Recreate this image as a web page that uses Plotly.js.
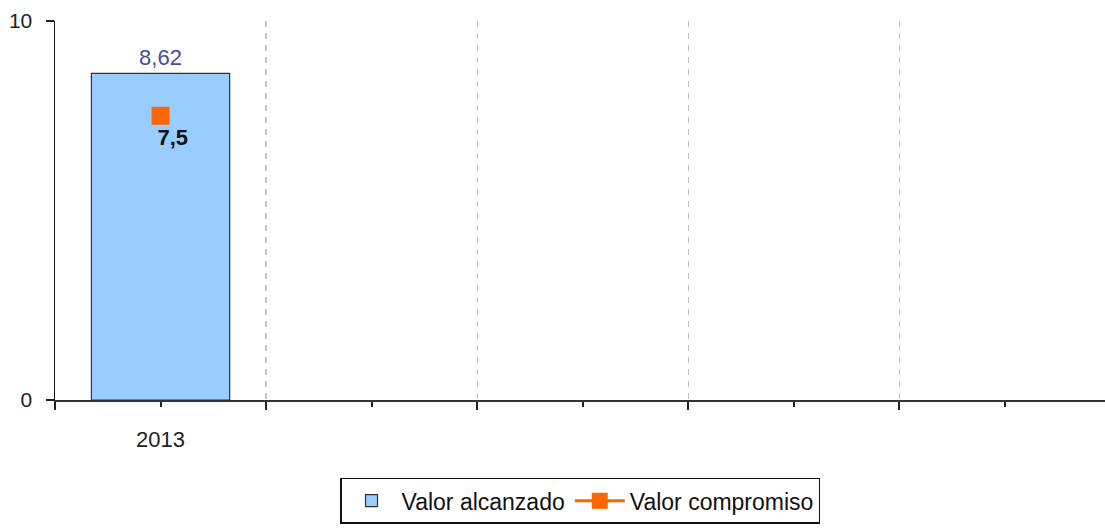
<!DOCTYPE html>
<html>
<head>
<meta charset="utf-8">
<script src="https://cdn.plot.ly/plotly-3.0.1.min.js"></script>
<style>html,body{margin:0;padding:0;background:#fff;}#chart{width:1105px;height:528px;}</style>
</head>
<body>
<div id="chart"></div>
<script>
// ---- data ----
const categories = ['2013', '', '', '', ''];
const valorAlcanzado = [8.62, null, null, null, null];
const valorCompromiso = [7.5, null, null, null, null];
const yTicks = [0, 10];
const seriesNames = ['Valor alcanzado', 'Valor compromiso'];

const xPos = categories.map((c, i) => i);
const boundaries = categories.map((c, i) => i - 0.5);
const fmt = v => (v === null ? '' : String(v).replace('.', ','));
const FONT = 'Liberation Sans, Arial, sans-serif';
const PAD = '\u00a0\u00a0\u00a0\u00a0';

const traces = [
  {
    type: 'bar',
    name: seriesNames[0],
    x: xPos,
    y: valorAlcanzado,
    width: 0.655,
    marker: { color: '#99CCFF', line: { color: '#333333', width: 1.2 } },
    text: valorAlcanzado.map(fmt),
    textposition: 'outside',
    textfont: { family: FONT, size: 22, color: '#4B4B9E' },
    cliponaxis: false,
    hoverinfo: 'skip'
  },
  {
    type: 'scatter',
    mode: 'lines+markers+text',
    name: seriesNames[1],
    x: xPos,
    y: valorCompromiso,
    line: { color: '#FF6600', width: 3 },
    marker: { symbol: 'square', size: 18, color: '#FF6600' },
    text: valorCompromiso.map(v => (v === null ? '' : PAD + fmt(v))),
    textposition: 'bottom center',
    textfont: { family: FONT, size: 22, color: '#111111', weight: 'bold' },
    cliponaxis: false,
    hoverinfo: 'skip'
  }
];

const layout = {
  width: 1105,
  height: 528,
  margin: { l: 55, r: 0, t: 21, b: 128 },
  paper_bgcolor: '#ffffff',
  plot_bgcolor: '#ffffff',
  font: { family: FONT, size: 22, color: '#111111' },
  showlegend: true,
  bargap: 0,
  xaxis: {
    range: [-0.5, 4.475],
    tickmode: 'array',
    tickvals: xPos,
    ticktext: categories,
    ticks: 'outside',
    ticklen: 5,
    tickwidth: 2,
    tickcolor: '#222222',
    ticklabelstandoff: 14,
    showgrid: false,
    zeroline: false,
    showline: true,
    linecolor: '#333333',
    linewidth: 2,
    tickfont: { family: FONT, size: 22, color: '#222222' },
    minor: {
      tickmode: 'array',
      tickvals: boundaries,
      ticks: 'outside',
      ticklen: 8,
      tickwidth: 2,
      tickcolor: '#222222',
      showgrid: true,
      gridcolor: '#C4C4C4',
      gridwidth: 1.2,
      griddash: '6px,6px'
    },
    fixedrange: true
  },
  yaxis: {
    range: [0, 10],
    tickmode: 'array',
    tickvals: yTicks,
    ticktext: yTicks.map(String),
    ticks: 'outside',
    ticklen: 8,
    tickwidth: 2,
    tickcolor: '#222222',
    ticklabelstandoff: 9,
    showgrid: true,
    gridcolor: '#A0A0A0',
    gridwidth: 2,
    zeroline: false,
    showline: true,
    linecolor: '#111111',
    linewidth: 1.5,
    tickfont: { family: FONT, size: 21, color: '#222222' },
    fixedrange: true
  },
  legend: {
    orientation: 'h',
    x: 0.5,
    xanchor: 'center',
    y: -0.205,
    yanchor: 'top',
    bordercolor: '#111111',
    borderwidth: 1.5,
    bgcolor: '#ffffff',
    font: { family: FONT, size: 23, color: '#111111' },
    itemwidth: 50,
    tracegroupgap: 0
  }
};

Plotly.newPlot('chart', traces, layout, { displayModeBar: false, staticPlot: true });
</script>
</body>
</html>
